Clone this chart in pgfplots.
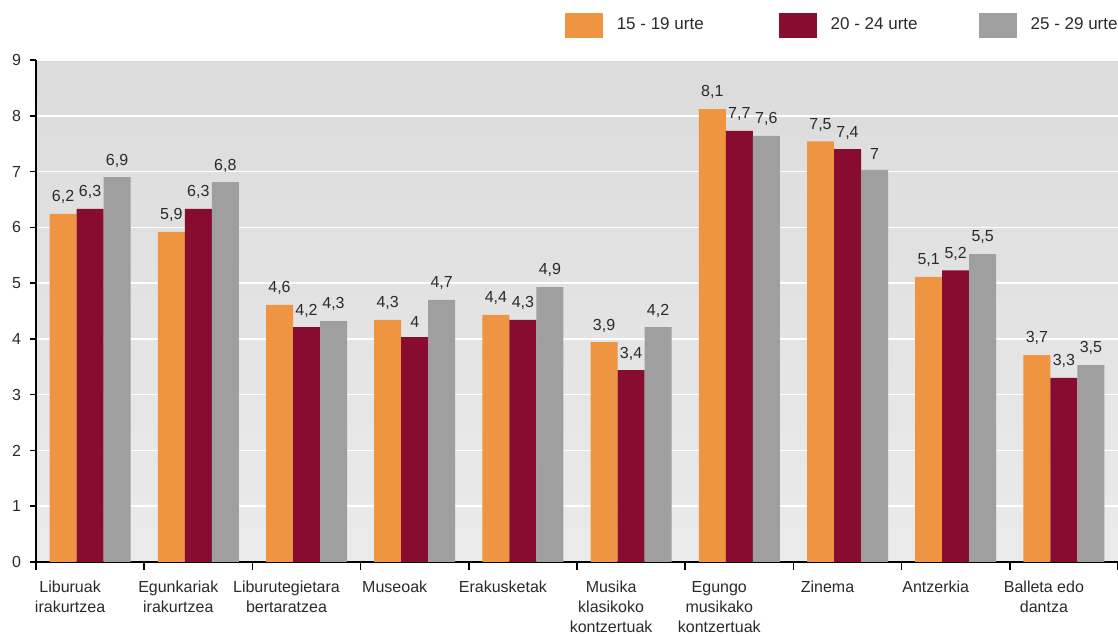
\documentclass[border=0pt]{standalone}
\usepackage{pgfplots}
\pgfplotsset{compat=1.18}
\usepackage{fontspec}
\setmainfont{Liberation Sans}
\definecolor{cOr}{HTML}{EF9441}
\definecolor{cRd}{HTML}{880C30}
\definecolor{cGy}{HTML}{9F9FA0}
\definecolor{cTx}{HTML}{2A2A2A}
\pgfkeys{/pgf/number format/assume math mode=true}
\begin{document}
\begin{tikzpicture}
\path[use as bounding box] (-18pt,-37pt) rectangle (541pt,281pt);
\begin{axis}[
  at={(0,0)}, anchor=south west,
  scale only axis, width=541pt, height=251pt,
  ybar=0pt, bar width=13.5pt,
  xmin=-0.5, xmax=9.5, ymin=0, ymax=9,
  axis x line*=bottom, axis y line*=left,
  axis line style={-, line width=0.75pt, black},
  axis background/.style={top color=black!14, bottom color=black!8},
  ymajorgrids, grid style={white, line width=0.75pt},
  ytick={0,...,9},
  xtick={0,...,9},
  minor xtick={-0.5,0.5,...,9.5},
  tick align=outside,
  major tick length=3pt,
  xtick style={draw=none},
  minor x tick style={draw=black, line width=0.75pt},
  minor tick length=4pt,
  ytick style={line width=0.75pt, black},
  tick label style={font=\fontsize{8}{10}\selectfont, text=cTx},
  xticklabel style={align=center, xshift=-10pt, yshift=-3pt, anchor=north},
  xticklabels={Liburuak\\irakurtzea, Egunkariak\\irakurtzea, Liburutegietara\\bertaratzea, Museoak, Erakusketak, Musika\\klasikoko\\kontzertuak, Egungo\\musikako\\kontzertuak, Zinema, Antzerkia, Balleta edo\\dantza},
  yticklabel style={xshift=-1pt},
  nodes near coords={\pgfmathprintnumber[use comma,precision=1]{\pgfplotspointmeta}},
  every node near coord/.append style={font=\fontsize{8}{10}\selectfont, text=cTx, yshift=1.5pt},
  legend columns=3,
  legend style={at={(1,1)}, anchor=south east, xshift=0pt, yshift=11pt, draw=none, fill=none,
    font=\fontsize{8.5}{10}\selectfont, text=cTx, inner sep=0pt,
    /tikz/every even column/.append style={column sep=30.5pt},
    nodes={inner sep=0pt}},
  legend image code/.code={\fill[#1] (0pt,-6.25pt) rectangle (19pt,6.25pt);},
  legend cell align=left,
]
\addplot[fill=cOr, draw=none] coordinates {(0,6.24) (1,5.92) (2,4.61) (3,4.34) (4,4.43) (5,3.94) (6,8.12) (7,7.54) (8,5.11) (9,3.71)};
\addplot[fill=cRd, draw=none] coordinates {(0,6.33) (1,6.33) (2,4.21) (3,4.03) (4,4.34) (5,3.44) (6,7.73) (7,7.40) (8,5.23) (9,3.30)};
\addplot[fill=cGy, draw=none] coordinates {(0,6.90) (1,6.81) (2,4.32) (3,4.70) (4,4.93) (5,4.21) (6,7.64) (7,7.03) (8,5.52) (9,3.53)};
\legend{\hspace*{7pt}15 - 19 urte\hspace*{7pt}\mbox{}, \hspace*{7pt}20 - 24 urte, \hspace*{7pt}25 - 29 urte}
\end{axis}
\end{tikzpicture}
\end{document}
